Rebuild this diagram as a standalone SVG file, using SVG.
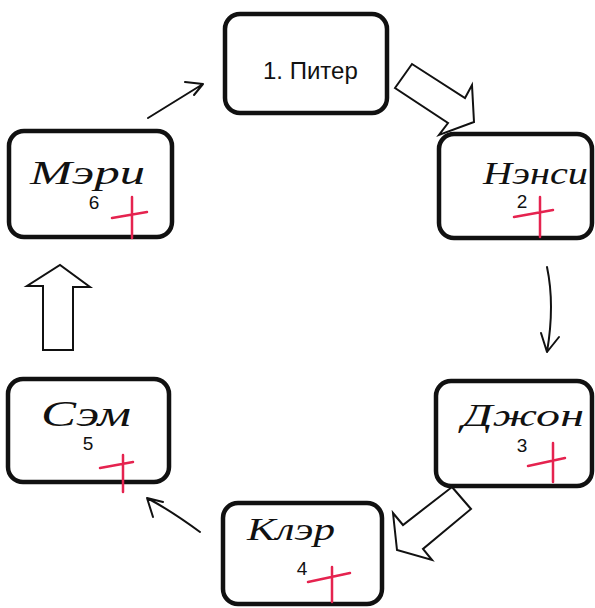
<svg xmlns="http://www.w3.org/2000/svg" width="595" height="608" viewBox="0 0 595 608">
<defs>
<style>
.box{fill:#fff;stroke:#111;stroke-width:4.5}
.name{font-family:"Liberation Serif","DejaVu Serif",serif;font-style:italic;fill:#111}
.num{font-family:"Liberation Sans","DejaVu Sans",sans-serif;font-size:19px;fill:#111;text-anchor:middle}
.label{font-family:"Liberation Sans","DejaVu Sans",sans-serif;font-size:24px;fill:#111}
.plus{stroke:#e5234f;stroke-width:2.5;fill:none;stroke-linecap:round}
.thin{stroke:#111;stroke-width:2;fill:none;stroke-linecap:round;stroke-linejoin:round}
.block{fill:#fff;stroke:#111;stroke-width:2;stroke-linejoin:miter}
</style>
</defs>
<rect width="595" height="608" fill="#fff"/>
<g id="connectors">
<path class="thin" d="M148,118 L203,84 M185,82 L203,84 L194,95"/>
<polygon class="block" points="395,88 412,64 465,98 472,85 474,122 439,135 448,123"/>
<path class="thin" d="M547,267 Q555,305 547,352 M541,333 L547,352 L559,337"/>
<polygon class="block" points="452,487 471,509 423,549 432,560 397,550 393,513 403,525"/>
<path class="thin" d="M200,532 Q170,510 147,498 M163,502 L147,498 L153,517"/>
<polygon class="block" points="43,350 43,286 27,286 60,265 90,287 73,287 73,350"/>
</g>
<g id="node1">
<rect class="box" x="225" y="14" width="162" height="99" rx="15"/>
<text class="label" x="263" y="79">1. Питер</text>
</g>
<g id="node2">
<rect class="box" x="439" y="134" width="153" height="104" rx="15"/>
<text class="name" x="483" y="184" font-size="31" textLength="105" lengthAdjust="spacingAndGlyphs">Нэнси</text>
<text class="num" x="522" y="208">2</text>
<path class="plus" d="M540,197 L540,237 M514,217 L553,210"/>
</g>
<g id="node3">
<rect class="box" x="436" y="381" width="156" height="105" rx="15"/>
<text class="name" x="462" y="426" font-size="31" textLength="122" lengthAdjust="spacingAndGlyphs">Джон</text>
<text class="num" x="522" y="452">3</text>
<path class="plus" d="M553,443 L553,482 M528,466 L565,458"/>
</g>
<g id="node4">
<rect class="box" x="223" y="503" width="159" height="101" rx="15"/>
<text class="name" x="247" y="540" font-size="31" textLength="88" lengthAdjust="spacingAndGlyphs">Клэр</text>
<text class="num" x="302" y="575">4</text>
<path class="plus" d="M332,567 L332,602 M308,582 L350,573"/>
</g>
<g id="node5">
<rect class="box" x="8" y="379" width="161" height="103" rx="15"/>
<text class="name" x="41" y="426" font-size="35" textLength="90" lengthAdjust="spacingAndGlyphs">Сэм</text>
<text class="num" x="88" y="450">5</text>
<path class="plus" d="M123,455 L123,492 M100,468 L133,462"/>
</g>
<g id="node6">
<rect class="box" x="9" y="131" width="163" height="106" rx="15"/>
<text class="name" x="30" y="184" font-size="33" textLength="115" lengthAdjust="spacingAndGlyphs">Мэри</text>
<text class="num" x="94" y="209">6</text>
<path class="plus" d="M132,197 L132,238 M112,218 L147,212"/>
</g>
</svg>
